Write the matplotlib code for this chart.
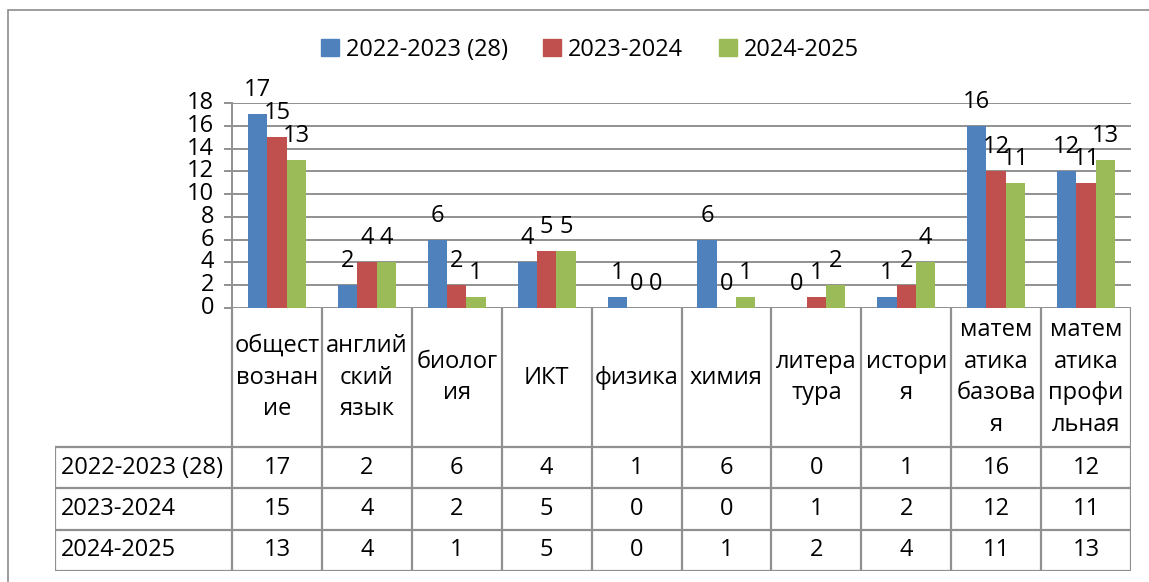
import matplotlib
matplotlib.use('Agg')
import matplotlib.pyplot as plt
from matplotlib.lines import Line2D
from matplotlib.patches import Rectangle
import numpy as np

plt.rcParams['font.family'] = ['Open Sans', 'DejaVu Sans']

# data
subjects = ['общест\nвознан\nие', 'англий\nский\nязык', 'биолог\nия', 'ИКТ',
            'физика', 'химия', 'литера\nтура', 'истори\nя',
            'матем\nатика\nбазова\nя', 'матем\nатика\nпрофи\nльная']
series_names = ['2022-2023 (28)', '2023-2024', '2024-2025']
y2023 = [17, 2, 6, 4, 1, 6, 0, 1, 16, 12]
y2024 = [15, 4, 2, 5, 0, 0, 1, 2, 12, 11]
y2025 = [13, 4, 1, 5, 0, 1, 2, 4, 11, 13]
colors = ['#4F81BD', '#C0504D', '#9BBB59']
yticks = [0, 2, 4, 6, 8, 10, 12, 14, 16, 18]

W, H = 1149, 582
FS = 17
grid_c = '#909090'

fig = plt.figure(figsize=(W / 100, H / 100), dpi=100)

# outer frame
fig.add_artist(Rectangle((8 / W, -0.1), 1.2, 1.1 - 10 / H, transform=fig.transFigure,
                         fill=False, edgecolor='#8C8C8C', linewidth=1.2))

ax = fig.add_axes([232 / W, 1 - 308 / H, (1131 - 232) / W, (308 - 103) / H])
n = len(subjects)
x = np.arange(n)
bw = 0.215
all_series = [y2023, y2024, y2025]
for k, vals in enumerate(all_series):
    pos = x + (k - 1) * bw
    ax.bar(pos, vals, width=bw, color=colors[k], label=series_names[k], zorder=3)
    for px, v in zip(pos, vals):
        ax.annotate(str(v), (px, v), xytext=(0, 24), textcoords='offset pixels',
                    ha='center', va='center', fontsize=FS, annotation_clip=False)

ax.set_xlim(-0.5, n - 0.5)
ax.set_ylim(0, 18)
ax.set_yticks(yticks)
ax.set_xticks([])
ax.yaxis.grid(True, color=grid_c, linewidth=1.4, zorder=0)
ax.set_axisbelow(True)
for s in ['top', 'right', 'bottom']:
    ax.spines[s].set_visible(False)
ax.spines['left'].set_color(grid_c)
ax.spines['left'].set_linewidth(1.4)
ax.tick_params(axis='y', length=6, width=1.4, color=grid_c, labelsize=FS, pad=7)
for lab in ax.get_yticklabels():
    lab.set_verticalalignment('center')

# legend
handles = [Rectangle((0, 0), 1, 1, color=c) for c in colors]
fig.legend(handles, series_names, loc='center', bbox_to_anchor=(590 / W, 1 - 50 / H),
           ncol=3, frameon=False, fontsize=FS, handlelength=0.75, handleheight=0.75,
           handletextpad=0.3, columnspacing=1.5)

# data table below the axis
lab_w = (232 - 55) / ((1131 - 232) / n)
hdr_h = 139
row_h = (571 - 447) / 3
tb_h = hdr_h + 3 * row_h
tax = fig.add_axes([55 / W, 1 - 571 / H, (1131 - 55) / W, (571 - 308) / H])
tax.set_xlim(-0.5 - lab_w, n - 0.5)
tax.set_ylim(tb_h, 0)
tax.axis('off')

lw = 1.6
# vertical lines of data columns
for i in range(n + 1):
    tax.add_line(Line2D([i - 0.5, i - 0.5], [0, tb_h], color=grid_c, lw=lw))
tax.add_line(Line2D([-0.5 - lab_w] * 2, [hdr_h, tb_h], color=grid_c, lw=lw))
for r in range(4):
    yy = hdr_h + r * row_h
    tax.add_line(Line2D([-0.5 - lab_w, n - 0.5], [yy, yy], color=grid_c, lw=lw))

for i, name in enumerate(subjects):
    tax.text(i, hdr_h / 2, name, ha='center', va='center', fontsize=FS, linespacing=1.42)

for r, vals in enumerate(all_series):
    yc = hdr_h + (r + 0.5) * row_h
    tax.text(-0.5 - lab_w + 0.07, yc, series_names[r], ha='left', va='center', fontsize=FS)
    for i, v in enumerate(vals):
        tax.text(i, yc, str(v), ha='center', va='center', fontsize=FS)

fig.savefig('out.png', dpi=100)
